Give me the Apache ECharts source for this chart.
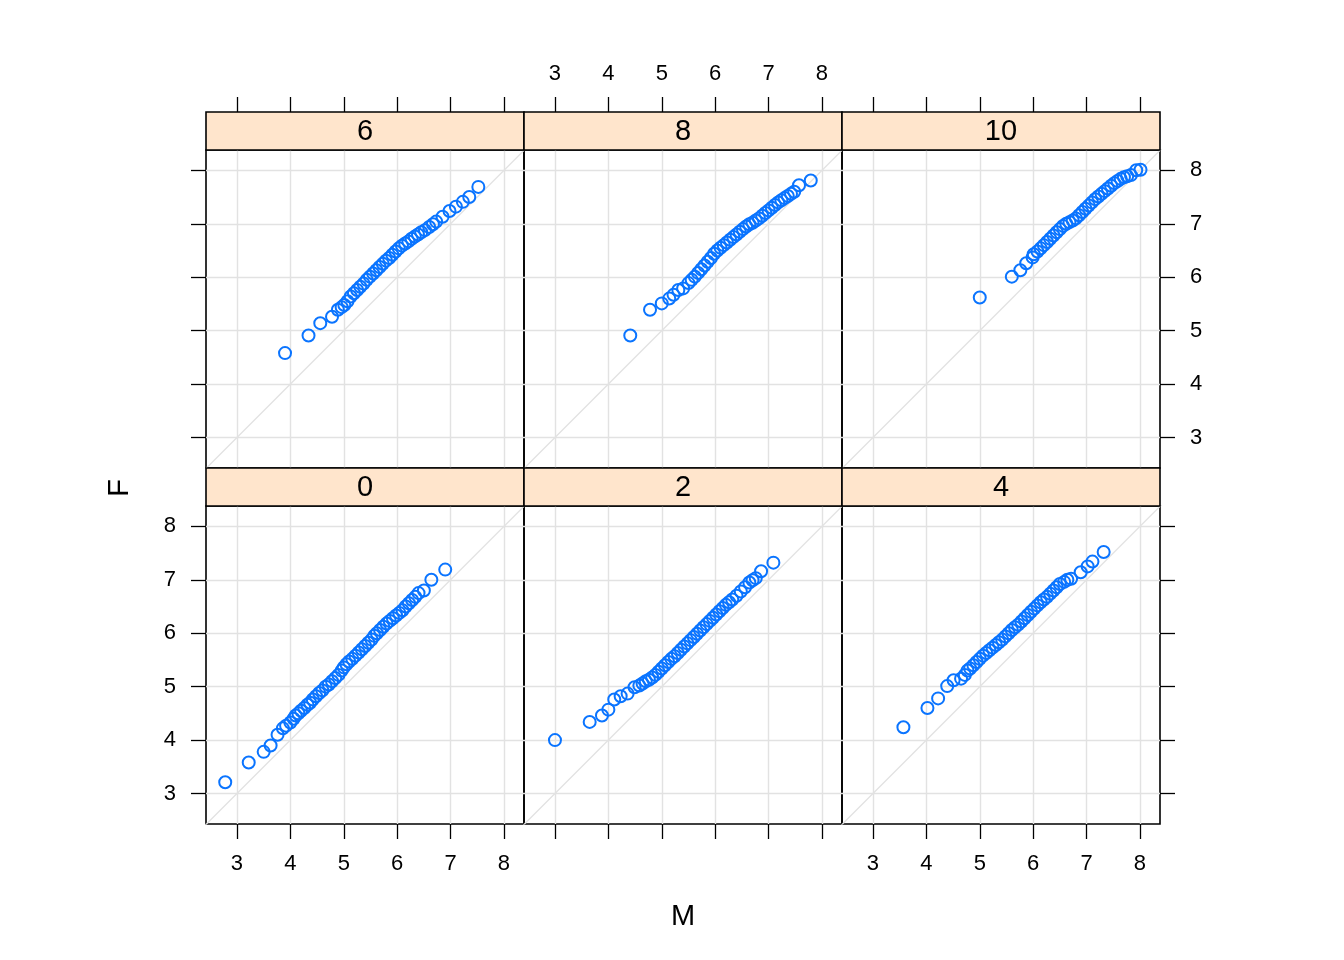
<!DOCTYPE html>
<html>
<head>
<meta charset="utf-8">
<script src="https://cdn.jsdelivr.net/npm/echarts@6/dist/echarts.min.js"></script>
<style>html,body{margin:0;padding:0;background:#fff}#c{width:1344px;height:960px}</style>
</head>
<body>
<div id="c"></div>
<script>
// ---- data ----
const panelLabels = ['6', '8', '10', '0', '2', '4'];
const tickValues = [3, 4, 5, 6, 7, 8];
const refLine = [[2, 2], [9, 9]];

const m6 = [3.90,4.34,4.56,4.78,4.89,4.96,5.01,5.07,5.13,5.19,5.25,5.31,5.37,5.43,5.49,5.55,5.61,5.67,5.73,5.79,5.85,5.91,5.97,6.03,6.09,6.15,6.21,6.27,6.33,6.39,6.45,6.52,6.60,6.67,6.73,6.85,6.98,7.10,7.23,7.35,7.52];
const f6 = [4.58,4.91,5.14,5.26,5.39,5.44,5.48,5.55,5.64,5.70,5.76,5.82,5.88,5.95,6.01,6.07,6.13,6.19,6.25,6.31,6.36,6.42,6.48,6.54,6.59,6.63,6.67,6.72,6.76,6.80,6.84,6.88,6.94,6.99,7.04,7.13,7.24,7.32,7.41,7.50,7.69];

const m8 = [4.41,4.78,5.00,5.14,5.22,5.31,5.40,5.50,5.56,5.62,5.68,5.74,5.80,5.86,5.92,5.98,6.04,6.10,6.16,6.22,6.28,6.34,6.40,6.46,6.52,6.58,6.64,6.70,6.76,6.82,6.88,6.94,7.00,7.06,7.12,7.18,7.24,7.30,7.36,7.42,7.48,7.57,7.79];
const f8 = [4.91,5.39,5.51,5.60,5.67,5.76,5.79,5.89,5.95,6.01,6.08,6.15,6.22,6.29,6.36,6.44,6.50,6.55,6.60,6.65,6.70,6.75,6.80,6.85,6.90,6.95,6.99,7.02,7.06,7.10,7.15,7.20,7.25,7.30,7.35,7.40,7.44,7.48,7.52,7.56,7.60,7.72,7.81];

const m10 = [5.00,5.60,5.76,5.87,5.99,6.01,6.08,6.14,6.20,6.26,6.32,6.38,6.44,6.50,6.56,6.62,6.68,6.74,6.80,6.86,6.92,6.98,7.04,7.10,7.16,7.22,7.28,7.34,7.40,7.46,7.52,7.58,7.64,7.70,7.76,7.83,7.93,8.01];
const f10 = [5.62,6.01,6.13,6.26,6.37,6.43,6.48,6.54,6.60,6.66,6.72,6.78,6.84,6.90,6.96,7.00,7.03,7.06,7.10,7.16,7.22,7.28,7.34,7.40,7.46,7.51,7.56,7.61,7.66,7.71,7.76,7.80,7.84,7.87,7.89,7.91,8.00,8.01];

const m0 = [2.78,3.22,3.50,3.63,3.76,3.86,3.92,4.00,4.06,4.10,4.15,4.20,4.26,4.32,4.37,4.42,4.48,4.54,4.60,4.66,4.72,4.78,4.84,4.90,4.96,5.00,5.05,5.10,5.16,5.22,5.28,5.34,5.40,5.46,5.52,5.57,5.62,5.68,5.74,5.80,5.86,5.92,5.98,6.04,6.10,6.16,6.22,6.28,6.34,6.40,6.50,6.64,6.90];
const f0 = [3.21,3.58,3.78,3.90,4.10,4.22,4.27,4.33,4.40,4.46,4.50,4.55,4.60,4.66,4.70,4.76,4.82,4.88,4.93,5.00,5.04,5.10,5.16,5.22,5.30,5.36,5.42,5.47,5.52,5.58,5.64,5.70,5.76,5.82,5.88,5.95,6.00,6.06,6.12,6.18,6.23,6.28,6.33,6.38,6.43,6.50,6.56,6.62,6.68,6.75,6.80,7.00,7.19];

const m2 = [3.00,3.65,3.88,4.00,4.11,4.23,4.36,4.49,4.58,4.64,4.70,4.76,4.82,4.88,4.94,5.00,5.06,5.12,5.18,5.24,5.30,5.36,5.42,5.48,5.54,5.60,5.66,5.72,5.78,5.84,5.90,5.96,6.02,6.08,6.14,6.20,6.26,6.32,6.40,6.48,6.56,6.64,6.70,6.76,6.86,7.09];
const f2 = [4.00,4.34,4.46,4.57,4.76,4.82,4.87,4.99,5.02,5.06,5.10,5.13,5.17,5.22,5.28,5.34,5.40,5.46,5.52,5.57,5.63,5.69,5.75,5.81,5.87,5.93,5.99,6.05,6.11,6.17,6.23,6.29,6.35,6.41,6.47,6.53,6.58,6.63,6.70,6.78,6.86,6.95,6.99,7.03,7.16,7.32];

const m4 = [3.57,4.02,4.22,4.39,4.51,4.65,4.72,4.77,4.82,4.88,4.94,5.00,5.06,5.12,5.18,5.24,5.30,5.36,5.42,5.48,5.54,5.60,5.66,5.72,5.78,5.84,5.90,5.96,6.02,6.08,6.14,6.20,6.26,6.32,6.38,6.44,6.50,6.58,6.64,6.71,6.89,7.02,7.11,7.32];
const f4 = [4.24,4.60,4.78,5.01,5.12,5.15,5.22,5.30,5.34,5.40,5.46,5.52,5.58,5.63,5.68,5.73,5.78,5.83,5.88,5.94,6.00,6.06,6.11,6.16,6.22,6.28,6.34,6.40,6.46,6.52,6.58,6.63,6.68,6.74,6.80,6.86,6.92,6.96,7.00,7.02,7.14,7.25,7.34,7.52];

const panelM = [m6, m8, m10, m0, m2, m4];
const panelF = [f6, f8, f10, f0, f2, f4];

// ---- layout ----
const FONT = '"Liberation Sans", Arial, Helvetica, sans-serif';
const colLeft = [206, 524, 842];
const panelW = 318, panelH = 318, stripH = 38;
const rowTop = [150, 506];
const xMin = 2.42, xMax = 8.375, yMin = 2.43, yMax = 8.38;
const tickLen = 15;
const gridCol = '#e2e2e2';

const grids = [], xAxes = [], yAxes = [], series = [], graphics = [];

panelLabels.forEach((lab, p) => {
  const row = p < 3 ? 0 : 1;
  const col = p % 3;
  grids.push({
    left: colLeft[col], top: rowTop[row], width: panelW, height: panelH,
    show: true, borderColor: '#000', borderWidth: 1.6, backgroundColor: 'transparent'
  });
  const xLabels = row === 0 ? col === 1 : col !== 1;
  xAxes.push({
    gridIndex: p, type: 'value', min: xMin, max: xMax,
    position: row === 0 ? 'top' : 'bottom',
    offset: row === 0 ? stripH : 0,
    axisLine: { show: false },
    axisTick: { show: true, length: tickLen, customValues: tickValues, lineStyle: { color: '#000', width: 1.3 } },
    axisLabel: { show: xLabels, customValues: tickValues, margin: row === 0 ? 27 : 29,
      color: '#000', fontSize: 22, fontFamily: FONT },
    splitLine: { show: true, lineStyle: { color: gridCol, width: 1.4 } }
  });
  const yTicks = col !== 1;
  const yLabels = (col === 0 && row === 1) || (col === 2 && row === 0);
  yAxes.push({
    gridIndex: p, type: 'value', min: yMin, max: yMax,
    position: col === 2 ? 'right' : 'left',
    axisLine: { show: false },
    axisTick: { show: yTicks, length: tickLen, customValues: tickValues, lineStyle: { color: '#000', width: 1.3 } },
    axisLabel: { show: yLabels, customValues: tickValues, margin: 30,
      color: '#000', fontSize: 22, fontFamily: FONT },
    splitLine: { show: true, lineStyle: { color: gridCol, width: 1.4 } }
  });
  series.push({
    type: 'line', xAxisIndex: p, yAxisIndex: p, data: refLine,
    symbol: 'none', silent: true, clip: true, z: 1,
    lineStyle: { color: gridCol, width: 1.3 }
  });
  series.push({
    type: 'scatter', xAxisIndex: p, yAxisIndex: p,
    data: panelM[p].map((v, i) => [v, panelF[p][i]]),
    symbol: 'circle', symbolSize: 12, z: 3,
    itemStyle: { color: 'rgba(0,0,0,0)', borderColor: '#0a74ff', borderWidth: 2, opacity: 1 }
  });
  // strip
  graphics.push({
    type: 'rect', z: 10,
    shape: { x: colLeft[col], y: rowTop[row] - stripH, width: panelW, height: stripH },
    style: { fill: '#ffe5cc', stroke: '#000', lineWidth: 1.6 }
  });
  graphics.push({
    type: 'text', z: 11, x: colLeft[col] + panelW / 2, y: rowTop[row] - stripH / 2 + 1,
    style: { text: lab, fill: '#000', font: '29px ' + FONT, textAlign: 'center', textVerticalAlign: 'middle' }
  });
});

graphics.push({
  type: 'text', x: 683, y: 917,
  style: { text: 'M', fill: '#000', font: '29px ' + FONT, textAlign: 'center', textVerticalAlign: 'middle' }
});
graphics.push({
  type: 'text', x: 120, y: 488, rotation: Math.PI / 2,
  style: { text: 'F', fill: '#000', font: '29px ' + FONT, textAlign: 'center', textVerticalAlign: 'middle' }
});

const chart = echarts.init(document.getElementById('c'), null, { renderer: 'canvas' });
chart.setOption({
  animation: false,
  backgroundColor: '#fff',
  grid: grids, xAxis: xAxes, yAxis: yAxes, series: series, graphic: graphics
});
</script>
</body>
</html>
